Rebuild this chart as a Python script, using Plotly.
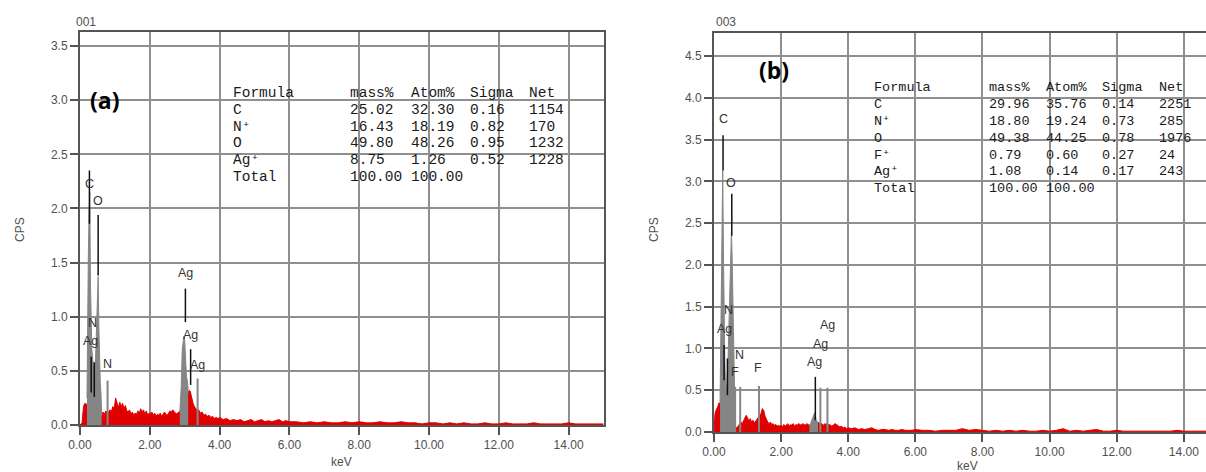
import plotly.graph_objects as go

W, H = 1206, 472

# ---------------- Panel (a) spectrum (keV, CPS) ----------------
a_red = [(0.00, 0.00), (0.06, 0.02), (0.10, 0.17), (0.14, 0.20), (0.19, 0.19), (0.21, 0.20),
         (0.62, 0.08), (0.66, 0.12), (0.70, 0.10), (0.74, 0.13), (0.78, 0.11), (0.82, 0.12),
         (0.86, 0.14), (0.90, 0.12), (0.94, 0.17), (0.98, 0.15), (1.02, 0.25), (1.06, 0.19),
         (1.10, 0.16), (1.14, 0.21), (1.18, 0.17), (1.22, 0.20), (1.26, 0.15), (1.30, 0.18),
         (1.34, 0.13), (1.38, 0.12), (1.42, 0.14), (1.46, 0.10), (1.50, 0.12), (1.54, 0.09),
         (1.58, 0.11), (1.62, 0.10), (1.66, 0.13), (1.70, 0.11), (1.74, 0.15), (1.78, 0.12),
         (1.82, 0.14), (1.86, 0.10), (1.90, 0.13), (1.94, 0.09), (1.98, 0.11), (2.02, 0.10),
         (2.06, 0.12), (2.10, 0.09), (2.14, 0.11), (2.18, 0.08), (2.22, 0.10), (2.26, 0.09),
         (2.30, 0.11), (2.34, 0.08), (2.38, 0.10), (2.42, 0.12), (2.46, 0.10), (2.50, 0.09),
         (2.54, 0.11), (2.58, 0.13), (2.62, 0.12), (2.66, 0.14), (2.70, 0.12), (2.74, 0.11),
         (2.78, 0.10), (2.82, 0.12), (2.86, 0.12),
         (3.10, 0.30), (3.13, 0.32), (3.16, 0.31), (3.20, 0.24), (3.24, 0.20), (3.28, 0.17),
         (3.32, 0.15), (3.36, 0.13), (3.40, 0.14), (3.45, 0.11), (3.50, 0.12), (3.55, 0.09),
         (3.60, 0.10), (3.65, 0.08), (3.70, 0.09), (3.75, 0.07), (3.80, 0.08), (3.85, 0.06),
         (3.90, 0.07), (3.95, 0.06), (4.00, 0.07)]
a_tail_kev = [4.1, 4.2, 4.3, 4.4, 4.5, 4.6, 4.7, 4.8, 4.9, 5.0, 5.1, 5.2, 5.3, 5.4, 5.5, 5.6, 5.7, 5.8, 5.9, 6.0,
              6.2, 6.4, 6.6, 6.8, 7.0, 7.2, 7.4, 7.6, 7.8, 8.0, 8.2, 8.4, 8.6, 8.8, 9.0, 9.2, 9.4, 9.6, 9.8,
              10.0, 10.2, 10.4, 10.6, 10.8, 11.0, 11.2, 11.4, 11.6, 11.8, 12.0, 12.2, 12.4, 12.6, 12.8,
              13.0, 13.2, 13.4, 13.6, 13.8, 14.0, 14.2, 14.4, 14.6, 14.8, 15.0]
a_tail_cps = [0.05, 0.06, 0.04, 0.05, 0.04, 0.05, 0.03, 0.04, 0.05, 0.03, 0.04, 0.05, 0.03, 0.04, 0.03,
              0.04, 0.05, 0.03, 0.04, 0.03,
              0.03, 0.02, 0.03, 0.02, 0.03, 0.02, 0.02, 0.03, 0.02, 0.03, 0.02, 0.02, 0.03, 0.02, 0.02,
              0.03, 0.02, 0.02, 0.01, 0.02, 0.02, 0.01, 0.02, 0.01, 0.02, 0.01, 0.01, 0.02, 0.01, 0.01,
              0.02, 0.01, 0.01, 0.01, 0.02, 0.01, 0.01, 0.01, 0.01, 0.02, 0.01, 0.01, 0.01, 0.01, 0.01]
a_gray_low = [(0.20, 0.25), (0.22, 1.30), (0.24, 1.60), (0.26, 1.95), (0.28, 2.15), (0.30, 1.30),
              (0.32, 0.85), (0.34, 0.70), (0.36, 0.62), (0.38, 0.55), (0.40, 0.50), (0.42, 0.52),
              (0.44, 0.55), (0.46, 0.75), (0.48, 1.05), (0.50, 1.37), (0.52, 1.37), (0.54, 0.90),
              (0.56, 0.55), (0.58, 0.40), (0.60, 0.30), (0.62, 0.10)]
a_gray_ag = [(2.86, 0.12), (2.90, 0.35), (2.93, 0.70), (2.96, 0.82), (2.98, 0.82), (3.00, 0.78),
             (3.02, 0.60), (3.05, 0.45), (3.08, 0.40), (3.10, 0.32)]
# marker lines: (keV, from CPS, to CPS)
a_black = [(0.27, 1.86, 2.35), (0.52, 1.38, 1.94), (0.32, 0.30, 0.63), (0.41, 0.26, 0.58),
           (3.02, 0.95, 1.26), (3.17, 0.37, 0.70)]
a_grayln = [(0.79, 0.41), (3.37, 0.43)]
a_labels = [("C", 0.26, 2.23), ("O", 0.52, 2.07), ("N", 0.37, 0.94), ("Ag", 0.31, 0.78),
            ("N", 0.80, 0.56), ("Ag", 3.01, 1.40), ("Ag", 3.18, 0.83), ("Ag", 3.38, 0.55)]
a_table = [("Formula", "mass%", "Atom%", "Sigma", "Net"),
           ("C", "25.02", "32.30", "0.16", "1154"),
           ("N⁺", "16.43", "18.19", "0.82", "170"),
           ("O", "49.80", "48.26", "0.95", "1232"),
           ("Ag⁺", "8.75", "1.26", "0.52", "1228"),
           ("Total", "100.00", "100.00", "", "")]

# ---------------- Panel (b) spectrum ----------------
b_red = [(0.00, 0.00), (0.03, 0.22), (0.07, 0.27), (0.11, 0.30), (0.15, 0.35), (0.18, 0.33),
         (0.64, 0.06), (0.68, 0.05), (0.72, 0.07), (0.76, 0.10), (0.80, 0.12), (0.84, 0.10),
         (0.88, 0.14), (0.92, 0.18), (0.96, 0.20), (1.00, 0.17), (1.04, 0.13), (1.08, 0.16),
         (1.12, 0.12), (1.16, 0.14), (1.20, 0.11), (1.24, 0.13), (1.28, 0.15), (1.32, 0.17),
         (1.36, 0.20), (1.40, 0.22), (1.44, 0.28), (1.48, 0.26), (1.52, 0.19), (1.56, 0.15),
         (1.60, 0.12), (1.64, 0.10), (1.68, 0.12), (1.72, 0.09), (1.76, 0.10), (1.80, 0.08),
         (1.84, 0.09), (1.88, 0.07), (1.92, 0.08), (1.96, 0.07), (2.00, 0.08), (2.04, 0.06),
         (2.08, 0.09), (2.12, 0.07), (2.16, 0.08), (2.20, 0.10), (2.24, 0.07), (2.28, 0.09),
         (2.32, 0.08), (2.36, 0.10), (2.40, 0.07), (2.44, 0.09), (2.48, 0.08), (2.52, 0.10),
         (2.56, 0.09), (2.60, 0.08), (2.64, 0.10), (2.68, 0.09), (2.72, 0.08), (2.76, 0.10),
         (2.80, 0.09), (2.84, 0.08),
         (3.10, 0.12), (3.14, 0.10), (3.18, 0.11), (3.22, 0.09), (3.26, 0.08), (3.30, 0.10),
         (3.34, 0.09), (3.38, 0.10), (3.42, 0.08), (3.46, 0.09), (3.50, 0.07), (3.55, 0.08),
         (3.60, 0.10), (3.65, 0.09), (3.70, 0.07), (3.75, 0.06), (3.80, 0.07), (3.85, 0.05),
         (3.90, 0.06), (3.95, 0.04), (4.00, 0.05)]
b_tail_kev = [4.1, 4.2, 4.3, 4.4, 4.5, 4.6, 4.7, 4.8, 4.9, 5.0, 5.1, 5.2, 5.3, 5.4, 5.5, 5.6, 5.7, 5.8, 5.9, 6.0,
              6.2, 6.4, 6.6, 6.8, 7.0, 7.2, 7.4, 7.6, 7.8, 8.0, 8.2, 8.4, 8.6, 8.8, 9.0, 9.2, 9.4, 9.6, 9.8,
              10.0, 10.2, 10.4, 10.6, 10.8, 11.0, 11.2, 11.4, 11.6, 11.8, 12.0, 12.2, 12.4, 12.6, 12.8,
              13.0, 13.2, 13.4, 13.6, 13.8, 14.0, 14.2, 14.4, 14.6, 14.8]
b_tail_cps = [0.04, 0.05, 0.03, 0.04, 0.03, 0.04, 0.05, 0.03, 0.02, 0.03, 0.03, 0.02, 0.03, 0.02, 0.02,
              0.03, 0.02, 0.02, 0.02, 0.03,
              0.02, 0.02, 0.01, 0.02, 0.02, 0.02, 0.04, 0.02, 0.03, 0.02, 0.01, 0.02, 0.01, 0.02, 0.01,
              0.02, 0.01, 0.01, 0.02, 0.01, 0.02, 0.04, 0.01, 0.02, 0.01, 0.02, 0.03, 0.01, 0.01, 0.02,
              0.01, 0.01, 0.01, 0.01, 0.01, 0.01, 0.01, 0.01, 0.02, 0.01, 0.01, 0.01, 0.01, 0.01]
b_gray_low = [(0.18, 0.35), (0.20, 1.20), (0.22, 2.08), (0.24, 2.50), (0.26, 3.13), (0.28, 2.20),
              (0.30, 1.30), (0.32, 0.90), (0.34, 0.60), (0.36, 0.50), (0.38, 0.55), (0.40, 0.70),
              (0.42, 0.90), (0.44, 1.20), (0.46, 1.50), (0.48, 1.90), (0.50, 2.20), (0.52, 2.40),
              (0.54, 2.10), (0.56, 1.50), (0.58, 0.90), (0.60, 0.55), (0.62, 0.35), (0.64, 0.12)]
b_gray_ag = [(2.84, 0.08), (2.88, 0.10), (2.92, 0.15), (2.96, 0.20), (3.00, 0.23), (3.04, 0.15),
             (3.08, 0.10), (3.10, 0.12)]
b_black = [(0.27, 3.13, 3.55), (0.53, 2.35, 2.85), (0.30, 0.62, 1.04), (0.40, 0.44, 0.88),
           (3.02, 0.14, 0.66)]
b_grayln = [(0.63, 0.54), (0.78, 0.54), (1.34, 0.55), (3.17, 0.53), (3.38, 0.53)]
b_labels = [("C", 0.27, 3.75), ("O", 0.51, 2.98), ("N", 0.42, 1.46), ("Ag", 0.30, 1.23),
            ("N", 0.77, 0.92), ("F", 0.63, 0.72), ("F", 1.31, 0.77), ("Ag", 2.98, 0.84),
            ("Ag", 3.16, 1.05), ("Ag", 3.37, 1.28)]
b_table = [("Formula", "mass%", "Atom%", "Sigma", "Net"),
           ("C", "29.96", "35.76", "0.14", "2251"),
           ("N⁺", "18.80", "19.24", "0.73", "285"),
           ("O", "49.38", "44.25", "0.78", "1976"),
           ("F⁺", "0.79", "0.60", "0.27", "24"),
           ("Ag⁺", "1.08", "0.14", "0.17", "243"),
           ("Total", "100.00", "100.00", "", "")]

x_ticks = [0, 2, 4, 6, 8, 10, 12, 14]

RED = "#e00000"
GRAY = "#858585"
GRID = "#8f8f8f"
AXC = "#555555"


def px(x):
    return x / W


def py(y):
    return 1 - y / H


fig = go.Figure()


def add_panel(xa, ya, red, tail_k, tail_c, gray_regions, black, grayln):
    rk = [p[0] for p in red] + tail_k
    rc = [p[1] for p in red] + tail_c
    fig.add_trace(go.Scatter(x=rk, y=rc, mode="lines", fill="tozeroy",
                             line=dict(color=RED, width=1), fillcolor=RED,
                             xaxis=xa, yaxis=ya, hoverinfo="skip"))
    for reg in gray_regions:
        fig.add_trace(go.Scatter(x=[p[0] for p in reg], y=[p[1] for p in reg], mode="lines",
                                 fill="tozeroy", line=dict(color=GRAY, width=1),
                                 fillcolor=GRAY, xaxis=xa, yaxis=ya, hoverinfo="skip"))
    gx, gy = [], []
    for e, h in grayln:
        gx += [e, e, None]
        gy += [0, h, None]
    fig.add_trace(go.Scatter(x=gx, y=gy, mode="lines", line=dict(color=GRAY, width=2),
                             xaxis=xa, yaxis=ya, hoverinfo="skip"))
    bx, by = [], []
    for e, y0, y1 in black:
        bx += [e, e, None]
        by += [y0, y1, None]
    fig.add_trace(go.Scatter(x=bx, y=by, mode="lines", line=dict(color="#111111", width=1.5),
                             xaxis=xa, yaxis=ya, hoverinfo="skip"))


add_panel("x", "y", a_red, a_tail_kev, a_tail_cps, [a_gray_low, a_gray_ag], a_black, a_grayln)
add_panel("x2", "y2", b_red, b_tail_kev, b_tail_cps, [b_gray_low, b_gray_ag], b_black, b_grayln)

axis_common = dict(showgrid=True, gridcolor=GRID, gridwidth=1.5, zeroline=False,
                   showline=True, linecolor=AXC, linewidth=2, mirror=True,
                   ticks="outside", ticklen=8, tickcolor=AXC, tickwidth=1.5, automargin=False,
                   tickfont=dict(family="Liberation Sans, Arial", size=12, color="#505050"))

fig.update_layout(
    width=W, height=H, autosize=False,
    margin=dict(l=0, r=0, t=0, b=0, pad=0, autoexpand=False),
    paper_bgcolor="white", plot_bgcolor="white", showlegend=False,
    xaxis=dict(domain=[px(80), px(603.5)], range=[0, 15], tickvals=x_ticks,
               tickformat=".2f", anchor="y", **axis_common),
    yaxis=dict(domain=[py(425), py(32)], range=[0, 3.63], dtick=0.5, tickformat=".1f",
               anchor="x", **axis_common),
    xaxis2=dict(domain=[px(714), 1.0], range=[0, 14.66], tickvals=x_ticks,
                tickformat=".2f", anchor="y2", **axis_common),
    yaxis2=dict(domain=[py(432), py(33)], range=[0, 4.775], dtick=0.5, tickformat=".1f",
                anchor="x2", **axis_common),
)

# white boxes behind the tables (hide gridlines)
fig.add_shape(type="rect", xref="paper", yref="paper", x0=px(217), x1=px(581),
              y0=py(195), y1=py(48), fillcolor="white", line=dict(width=0), layer="between")
fig.add_shape(type="rect", xref="paper", yref="paper", x0=px(860), x1=1.0,
              y0=py(200), y1=py(57), fillcolor="white", line=dict(width=0), layer="between")

ann = []
lab_font = dict(family="Liberation Sans, Arial", size=12.5, color="#333333")
for t, e, v in a_labels:
    ann.append(dict(text=t, x=e, y=v, xref="x", yref="y", showarrow=False, font=lab_font,
                    xanchor="center", yanchor="middle"))
for t, e, v in b_labels:
    ann.append(dict(text=t, x=e, y=v, xref="x2", yref="y2", showarrow=False, font=lab_font,
                    xanchor="center", yanchor="middle"))


def add_table(rows, col_px, row0, dy, size):
    f = dict(family="Liberation Mono, Courier New, monospace", size=size, color="#1a1a1a")
    for i, row in enumerate(rows):
        for j, cell in enumerate(row):
            if cell:
                ann.append(dict(text=cell, x=px(col_px[j]), y=py(row0 + i * dy), xref="paper",
                                yref="paper", xanchor="left", yanchor="middle",
                                showarrow=False, font=f))


add_table(a_table, [231, 348, 409, 468, 527], 93, 16.8, 14.5)
add_table(b_table, [872, 987, 1044, 1100, 1157], 88, 16.8, 13.5)


def paper_text(text, x, y, font, angle=0):
    return dict(text=text, x=px(x), y=py(y), xref="paper", yref="paper", showarrow=False,
                xanchor="center", yanchor="middle", textangle=angle, font=font)


title_font = dict(family="Liberation Sans, Arial", size=12, color="#505050")
big_font = dict(family="Open Sans, Noto Sans, sans-serif", size=23, color="black")
ann += [
    paper_text("001", 86, 22, title_font),
    paper_text("003", 726, 22, title_font),
    paper_text("CPS", 20, 230, title_font, -90),
    paper_text("CPS", 654, 230, title_font, -90),
    paper_text("keV", 341, 462, title_font),
    paper_text("keV", 967, 466, title_font),
    paper_text("<b>(a)</b>", 104, 100, big_font),
    paper_text("<b>(b)</b>", 774, 70, big_font),
]
fig.update_layout(annotations=ann)

fig.write_html("out.html", config={"displayModeBar": False},
               post_script="document.body.style.margin='0';")
